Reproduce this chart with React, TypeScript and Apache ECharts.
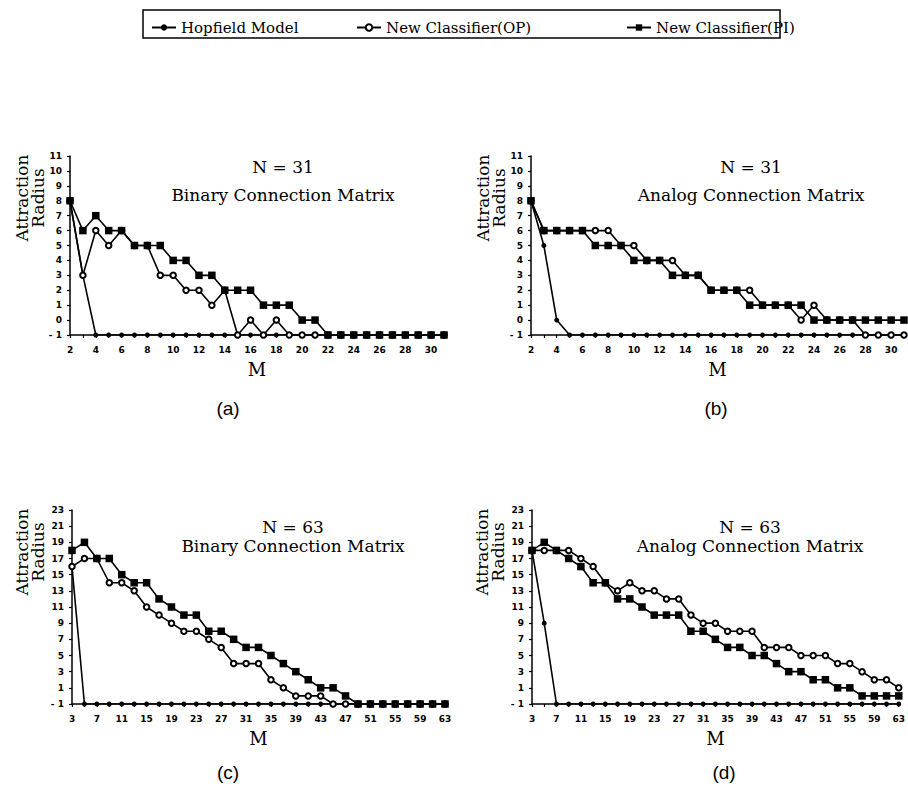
import React, { useEffect, useRef } from "react";
import * as echarts from "echarts";

// ---- Data ----
const M31 = [2, 3, 4, 5, 6, 7, 8, 9, 10, 11, 12, 13, 14, 15, 16, 17, 18, 19, 20, 21, 22, 23, 24, 25, 26, 27, 28, 29, 30, 31];
const M63 = [3, 5, 7, 9, 11, 13, 15, 17, 19, 21, 23, 25, 27, 29, 31, 33, 35, 37, 39, 41, 43, 45, 47, 49, 51, 53, 55, 57, 59, 61, 63];

// (a) N = 31, Binary
const hopA = [8, 3, -1, -1, -1, -1, -1, -1, -1, -1, -1, -1, -1, -1, -1, -1, -1, -1, -1, -1, -1, -1, -1, -1, -1, -1, -1, -1, -1, -1];
const opA = [8, 3, 6, 5, 6, 5, 5, 3, 3, 2, 2, 1, 2, -1, 0, -1, 0, -1, -1, -1, -1, -1, -1, -1, -1, -1, -1, -1, -1, -1];
const piA = [8, 6, 7, 6, 6, 5, 5, 5, 4, 4, 3, 3, 2, 2, 2, 1, 1, 1, 0, 0, -1, -1, -1, -1, -1, -1, -1, -1, -1, -1];

// (b) N = 31, Analog
const hopB = [8, 5, 0, -1, -1, -1, -1, -1, -1, -1, -1, -1, -1, -1, -1, -1, -1, -1, -1, -1, -1, -1, -1, -1, -1, -1, -1, -1, -1, -1];
const opB = [8, 6, 6, 6, 6, 6, 6, 5, 5, 4, 4, 4, 3, 3, 2, 2, 2, 2, 1, 1, 1, 0, 1, 0, 0, 0, -1, -1, -1, -1];
const piB = [8, 6, 6, 6, 6, 5, 5, 5, 4, 4, 4, 3, 3, 3, 2, 2, 2, 1, 1, 1, 1, 1, 0, 0, 0, 0, 0, 0, 0, 0];

// (c) N = 63, Binary
const hopC = [16, -1, -1, -1, -1, -1, -1, -1, -1, -1, -1, -1, -1, -1, -1, -1, -1, -1, -1, -1, -1, -1, -1, -1, -1, -1, -1, -1, -1, -1, -1];
const opC = [16, 17, 17, 14, 14, 13, 11, 10, 9, 8, 8, 7, 6, 4, 4, 4, 2, 1, 0, 0, 0, -1, -1, -1, -1, -1, -1, -1, -1, -1, -1];
const piC = [18, 19, 17, 17, 15, 14, 14, 12, 11, 10, 10, 8, 8, 7, 6, 6, 5, 4, 3, 2, 1, 1, 0, -1, -1, -1, -1, -1, -1, -1, -1];

// (d) N = 63, Analog
const hopD = [18, 9, -1, -1, -1, -1, -1, -1, -1, -1, -1, -1, -1, -1, -1, -1, -1, -1, -1, -1, -1, -1, -1, -1, -1, -1, -1, -1, -1, -1, -1];
const opD = [18, 18, 18, 18, 17, 16, 14, 13, 14, 13, 13, 12, 12, 10, 9, 9, 8, 8, 8, 6, 6, 6, 5, 5, 5, 4, 4, 3, 2, 2, 1];
const piD = [18, 19, 18, 17, 16, 14, 14, 12, 12, 11, 10, 10, 10, 8, 8, 7, 6, 6, 5, 5, 4, 3, 3, 2, 2, 1, 1, 0, 0, 0, 0];

// Tick labels
const xLabels31 = [2, 4, 6, 8, 10, 12, 14, 16, 18, 20, 22, 24, 26, 28, 30];
const xLabels63 = [3, 7, 11, 15, 19, 23, 27, 31, 35, 39, 43, 47, 51, 55, 59, 63];
const yTicks31 = [-1, 0, 1, 2, 3, 4, 5, 6, 7, 8, 9, 10, 11];
const yTicks63 = [-1, 1, 3, 5, 7, 9, 11, 13, 15, 17, 19, 21, 23];

const seriesNames = ["Hopfield Model", "New Classifier(OP)", "New Classifier(PI)"];
const panelTitles = [
  ["N = 31", "Binary Connection Matrix"],
  ["N = 31", "Analog Connection Matrix"],
  ["N = 63", "Binary Connection Matrix"],
  ["N = 63", "Analog Connection Matrix"],
];
const panelLetters = ["(a)", "(b)", "(c)", "(d)"];

const SERIF = "DejaVu Serif";
const SANS = "DejaVu Sans";

export default function App() {
  const ref = useRef<HTMLDivElement>(null);

  useEffect(() => {
    if (!ref.current) return;
    const chart = echarts.init(ref.current, null, { renderer: "svg" });

    const panels = [
      { xs: M31, data: [hopA, opA, piA], xmin: 2, xmax: 31, ymin: -1, ymax: 11, xl: xLabels31, xt: M31, yt: yTicks31 },
      { xs: M31, data: [hopB, opB, piB], xmin: 2, xmax: 31, ymin: -1, ymax: 11, xl: xLabels31, xt: M31, yt: yTicks31 },
      { xs: M63, data: [hopC, opC, piC], xmin: 3, xmax: 63, ymin: -1, ymax: 23, xl: xLabels63, xt: M63, yt: yTicks63 },
      { xs: M63, data: [hopD, opD, piD], xmin: 3, xmax: 63, ymin: -1, ymax: 23, xl: xLabels63, xt: M63, yt: yTicks63 },
    ];

    const grids = [
      { left: 70, top: 156, width: 374, height: 179 },
      { left: 531, top: 156, width: 373, height: 179 },
      { left: 72, top: 510, width: 373, height: 194 },
      { left: 532, top: 510, width: 371, height: 194 },
    ];

    const axisLineStyle = { color: "#000", width: 1.5 };
    const tickLabelStyle = { color: "#000", fontFamily: SANS, fontWeight: "bold" as const, fontSize: 9 };

    const xAxis = panels.map((p, i) => ({
      type: "value",
      gridIndex: i,
      min: p.xmin,
      max: p.xmax,
      axisLine: { onZero: false, lineStyle: axisLineStyle },
      axisTick: { show: true, length: 3, customValues: p.xt, lineStyle: { color: "#000", width: 1.2 } },
      axisLabel: { customValues: p.xl, margin: 10, ...tickLabelStyle },
      splitLine: { show: false },
      name: "M",
      nameLocation: "middle",
      nameGap: 25,
      nameTextStyle: { fontFamily: SERIF, fontSize: 18, color: "#000" },
    }));

    const yAxis = panels.map((p, i) => ({
      type: "value",
      gridIndex: i,
      min: p.ymin,
      max: p.ymax,
      axisLine: { show: true, onZero: false, lineStyle: axisLineStyle },
      axisTick: { show: true, length: 3, customValues: p.yt, lineStyle: { color: "#000", width: 1.2 } },
      axisLabel: {
        customValues: p.yt,
        margin: 8,
        formatter: (v: number) => (v === -1 ? "- 1" : String(v)),
        ...tickLabelStyle,
      },
      splitLine: { show: false },
    }));

    const symbols = [
      { symbol: "circle", symbolSize: 5 },
      { symbol: "emptyCircle", symbolSize: 5.5 },
      { symbol: "rect", symbolSize: 7.5 },
    ];

    const series: any[] = [];
    panels.forEach((p, i) => {
      p.data.forEach((arr, k) => {
        series.push({
          type: "line",
          name: seriesNames[k],
          xAxisIndex: i,
          yAxisIndex: i,
          data: p.xs.map((x, j) => [x, arr[j]]),
          symbol: symbols[k].symbol,
          symbolSize: symbols[k].symbolSize,
          showAllSymbol: true,
          lineStyle: { color: "#000", width: 1.6 },
          itemStyle: { color: "#000", borderColor: "#000", borderWidth: k === 1 ? 1.3 : 0 },
          z: 2 + k,
        });
      });
    });

    const legendLefts = [146, 351, 621];
    const legend = seriesNames.map((n, k) => ({
      data: [n],
      left: legendLefts[k],
      top: 15,
      itemWidth: 24,
      itemHeight: 8,
      itemGap: 0,
      selectedMode: false,
      textStyle: { fontFamily: SERIF, fontSize: 15, color: "#000" },
    }));

    const titleCenters = [
      [283, 167, 195],
      [751, 167, 195],
      [293, 527, 546],
      [750, 527, 546],
    ];
    const yNamePos = [
      [22, 38, 198],
      [483, 499, 198],
      [22, 38, 552],
      [482, 498, 552],
    ];
    const letterPos = [
      [228, 408],
      [716, 408],
      [228, 772],
      [724, 772],
    ];

    const graphic: any[] = [
      {
        type: "rect",
        shape: { x: 143, y: 10, width: 637, height: 28 },
        style: { fill: "none", stroke: "#000", lineWidth: 1.5 },
      },
    ];
    panelTitles.forEach((t, i) => {
      const [cx, y1, y2] = titleCenters[i];
      graphic.push({
        type: "text",
        x: cx,
        y: y1,
        style: { text: t[0], font: `17px "${SERIF}"`, fill: "#000", textAlign: "center", textVerticalAlign: "middle" },
      });
      graphic.push({
        type: "text",
        x: cx,
        y: y2,
        style: { text: t[1], font: `17px "${SERIF}"`, fill: "#000", textAlign: "center", textVerticalAlign: "middle" },
      });
      const [ax, rx, ny] = yNamePos[i];
      graphic.push({
        type: "text",
        x: ax,
        y: ny,
        rotation: Math.PI / 2,
        style: { text: "Attraction", font: `17px "${SERIF}"`, fill: "#000", textAlign: "center", textVerticalAlign: "middle" },
      });
      graphic.push({
        type: "text",
        x: rx,
        y: ny,
        rotation: Math.PI / 2,
        style: { text: "Radius", font: `17px "${SERIF}"`, fill: "#000", textAlign: "center", textVerticalAlign: "middle" },
      });
      const [lx, ly] = letterPos[i];
      graphic.push({
        type: "text",
        x: lx,
        y: ly,
        style: { text: panelLetters[i], font: `19px "Liberation Sans"`, fill: "#000", textAlign: "center", textVerticalAlign: "middle" },
      });
    });

    chart.setOption({
      animation: false,
      backgroundColor: "#fff",
      grid: grids,
      xAxis,
      yAxis,
      legend,
      series,
      graphic,
    });

    return () => chart.dispose();
  }, []);

  return (
    <div
      ref={ref}
      style={{ position: "fixed", left: 0, top: 0, width: 908, height: 796, background: "#fff" }}
    />
  );
}
